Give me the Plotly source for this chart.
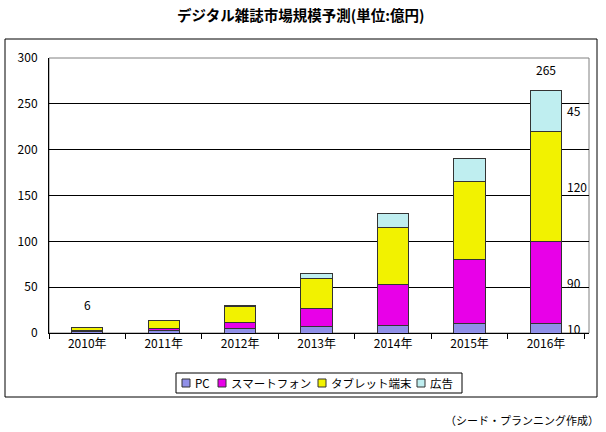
import plotly.graph_objects as go

years = ["2010年", "2011年", "2012年", "2013年", "2014年", "2015年", "2016年"]
series_names = ["PC", "スマートフォン", "タブレット端末", "広告"]
pc = [2, 3, 5, 7, 8, 10, 10]
smartphone = [1, 2, 6, 20, 45, 70, 90]
tablet = [3, 9, 18, 33, 62, 85, 120]
ads = [0, 0, 1, 5, 15, 25, 45]
totals = [6, 14, 30, 65, 130, 190, 265]

colors = ["#9090e8", "#e800e8", "#f2f200", "#bfeef0"]
FONT = "Noto Sans CJK JP, Liberation Sans, sans-serif"

W, H = 606, 432
L, R, T, B = 49, 17, 58, 99
pw, ph = W - L - R, H - T - B

def px_x(p):
    return (p - L) / pw

def px_y(p):
    return (H - B - p) / ph

fig = go.Figure()
for name, vals, col in zip(series_names, [pc, smartphone, tablet, ads], colors):
    fig.add_trace(go.Bar(
        x=years, y=vals, name=name,
        marker=dict(color=col, line=dict(color="#333333", width=1)),
        width=0.41, showlegend=False,
    ))

# total labels above first and last bars
for i in (0, len(years) - 1):
    fig.add_annotation(x=years[i], y=totals[i], text=str(totals[i]), showarrow=False,
                       yanchor="bottom", yshift=10 if i else 13,
                       font=dict(family=FONT, size=12, color="black"))

# segment labels right of the last bar
last = len(years) - 1
base = 0
for vals in [pc, smartphone, tablet, ads]:
    v = vals[last]
    fig.add_annotation(x=years[last], y=base + v / 2, text=str(v), showarrow=False,
                       xanchor="left", xshift=19,
                       font=dict(family=FONT, size=12, color="black"))
    base += v

# title
fig.add_annotation(xref="paper", yref="paper", x=px_x(300), y=px_y(14),
                   text="<b>デジタル雑誌市場規模予測(単位:億円)</b>", showarrow=False,
                   xanchor="center", yanchor="middle",
                   font=dict(family=FONT, size=14.5, color="black"))
# source
fig.add_annotation(xref="paper", yref="paper", x=px_x(601), y=px_y(420),
                   text="（シード・プランニング作成）", showarrow=False,
                   xanchor="right", yanchor="middle",
                   font=dict(family=FONT, size=11, color="black"))

# outer chart border
fig.add_shape(type="rect", xref="paper", yref="paper",
              x0=px_x(5), x1=px_x(597), y0=px_y(397), y1=px_y(39),
              line=dict(color="black", width=1), layer="below")
# plot-area border
fig.add_shape(type="rect", xref="paper", yref="paper",
              x0=0, x1=1, y0=0, y1=1,
              line=dict(color="#808080", width=1), layer="below")

# custom legend
fig.add_shape(type="rect", xref="paper", yref="paper",
              x0=px_x(176), x1=px_x(462), y0=px_y(393), y1=px_y(373),
              line=dict(color="black", width=1), fillcolor="white")
sq_x = [182, 218, 318, 417]
for name, col, sx in zip(series_names, colors, sq_x):
    fig.add_shape(type="rect", xref="paper", yref="paper",
                  x0=px_x(sx), x1=px_x(sx + 8), y0=px_y(387), y1=px_y(379),
                  line=dict(color="#333333", width=1), fillcolor=col)
    fig.add_annotation(xref="paper", yref="paper", x=px_x(sx + 11), y=px_y(383),
                       text=name, showarrow=False, xanchor="left", yanchor="middle",
                       font=dict(family=FONT, size=11.5, color="black"))

fig.update_layout(
    width=W, height=H,
    margin=dict(l=L, r=R, t=T, b=B, autoexpand=False),
    barmode="stack",
    paper_bgcolor="white", plot_bgcolor="white",
    font=dict(family=FONT, size=12, color="black"),
    showlegend=False,
)
fig.update_xaxes(showgrid=False, showline=True, linecolor="black", linewidth=1,
                 ticks="outside", tickson="boundaries", ticklen=5, tickcolor="black",
                 tickfont=dict(family=FONT, size=12, color="black"))
fig.update_yaxes(range=[0, 300], dtick=50, showgrid=True, gridcolor="black", gridwidth=1,
                 showline=True, linecolor="black", linewidth=1, zeroline=False,
                 ticks="", ticklabelstandoff=8,
                 tickfont=dict(family=FONT, size=12, color="black"))

fig.write_html("out.html", config={"displayModeBar": False},
               post_script="document.body.style.margin='0';document.body.style.overflow='hidden';")
